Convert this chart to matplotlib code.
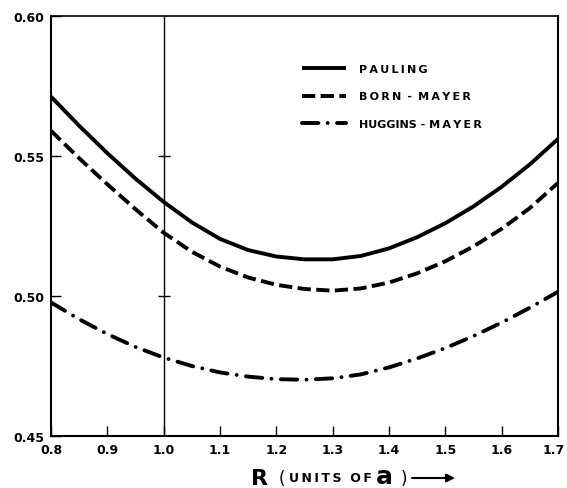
import matplotlib
matplotlib.use("Agg")
import matplotlib.pyplot as plt
from matplotlib.transforms import ScaledTranslation

# ---- data ----
r_values = [0.80, 0.85, 0.90, 0.95, 1.00, 1.05, 1.10, 1.15, 1.20, 1.25,
            1.30, 1.35, 1.40, 1.45, 1.50, 1.55, 1.60, 1.65, 1.70]
pauling = [0.5712, 0.5608, 0.5510, 0.5419, 0.5336, 0.5263, 0.5204, 0.5164,
           0.5141, 0.5131, 0.5131, 0.5143, 0.5170, 0.5210, 0.5260, 0.5320,
           0.5390, 0.5470, 0.5561]
born_mayer = [0.5590, 0.5492, 0.5399, 0.5310, 0.5226, 0.5158, 0.5105, 0.5066,
              0.5040, 0.5025, 0.5019, 0.5027, 0.5048, 0.5081, 0.5124, 0.5177,
              0.5240, 0.5314, 0.5404]
huggins_mayer = [0.4977, 0.4917, 0.4864, 0.4818, 0.4780, 0.4750, 0.4727,
                 0.4712, 0.4703, 0.4701, 0.4706, 0.4720, 0.4745, 0.4777,
                 0.4814, 0.4857, 0.4905, 0.4958, 0.5015]
series_labels = ["P\u2009A\u2009U\u2009L\u2009I\u2009N\u2009G",
                 "B\u2009O\u2009R\u2009N \u2009-\u2009 M\u2009A\u2009Y\u2009E\u2009R",
                 "HUGGINS - M\u2009A\u2009Y\u2009E\u2009R"]
x_ticks = [0.8, 0.9, 1.0, 1.1, 1.2, 1.3, 1.4, 1.5, 1.6, 1.7]
x_tick_labels = ["0.8", "0.9", "1.0", "1.1", "1.2", "1.3", "1.4", "1.5", "1.6", "1.7"]
y_ticks = [0.45, 0.50, 0.55, 0.60]
y_tick_labels = ["0.45", "0.50", "0.55", "0.60"]
ref_r = 1.0

W, H = 567, 489
def fp(x, y):
    return (x / W, 1 - y / H)

fig = plt.figure(figsize=(W / 100, H / 100), dpi=100)
ax = fig.add_axes([51 / W, 1 - 437 / H, (558 - 51) / W, (437 - 17) / H])

lw = 2.8
l1, = ax.plot(r_values, pauling, color="black", lw=lw, solid_capstyle="butt",
              solid_joinstyle="round")
l2, = ax.plot(r_values, born_mayer, color="black", lw=lw, dashes=(3.4, 1.4))
l3, = ax.plot(r_values, huggins_mayer, color="black", lw=lw,
              dashes=(4.2, 2.4, 0.01, 2.4), dash_capstyle="round")

ax.axvline(ref_r, color="black", lw=1.0)
for yv in y_ticks[1:3]:
    ax.plot([ref_r], [yv], marker="_", markersize=9, mew=1.0, color="black")

ax.set_xlim(0.8, 1.7)
ax.set_ylim(0.45, 0.60)
ax.set_xticks(x_ticks)
ax.set_xticklabels(x_tick_labels)
ax.set_yticks(y_ticks)
ax.set_yticklabels(y_tick_labels)
ax.tick_params(direction="in", length=7, width=1.0, labelsize=9, pad=5,
               top=False, right=False)
for lab in ax.get_xticklabels() + ax.get_yticklabels():
    lab.set_fontweight("bold")
last = ax.get_xticklabels()[-1]
last.set_transform(last.get_transform() + ScaledTranslation(-4 / 100, 0, fig.dpi_scale_trans))
for s in ax.spines.values():
    s.set_linewidth(1.5)
ax.spines["top"].set_linewidth(1.2)

leg = ax.legend([l1, l2, l3], series_labels, loc="upper left",
                bbox_to_anchor=fp(302, 65), bbox_transform=fig.transFigure,
                frameon=False, fontsize=8, handlelength=4.0,
                handletextpad=1.1, labelspacing=1.57, borderpad=0,
                borderaxespad=0)
for t in leg.get_texts():
    t.set_fontweight("bold")

# x-axis label made of pieces
fig.text(*fp(251, 479), "R", fontsize=16, fontweight="bold", ha="left", va="center")
fig.text(*fp(279, 479), "(", fontsize=12, ha="left", va="center")
fig.text(*fp(289, 479), "U\u2009N\u2009I\u2009T\u2009S  O\u2009F", fontsize=9,
         fontweight="bold", ha="left", va="center")
fig.text(*fp(376, 477), "a", fontsize=18, fontweight="bold", ha="left", va="center")
fig.text(*fp(401, 479), ")", fontsize=12, ha="left", va="center")
ax.annotate("", xy=fp(455, 479), xytext=fp(412, 479),
            xycoords="figure fraction", textcoords="figure fraction",
            arrowprops=dict(arrowstyle="-|>", lw=1.5, color="black",
                            mutation_scale=12, shrinkA=0, shrinkB=0))

fig.savefig("out.png", dpi=100)
